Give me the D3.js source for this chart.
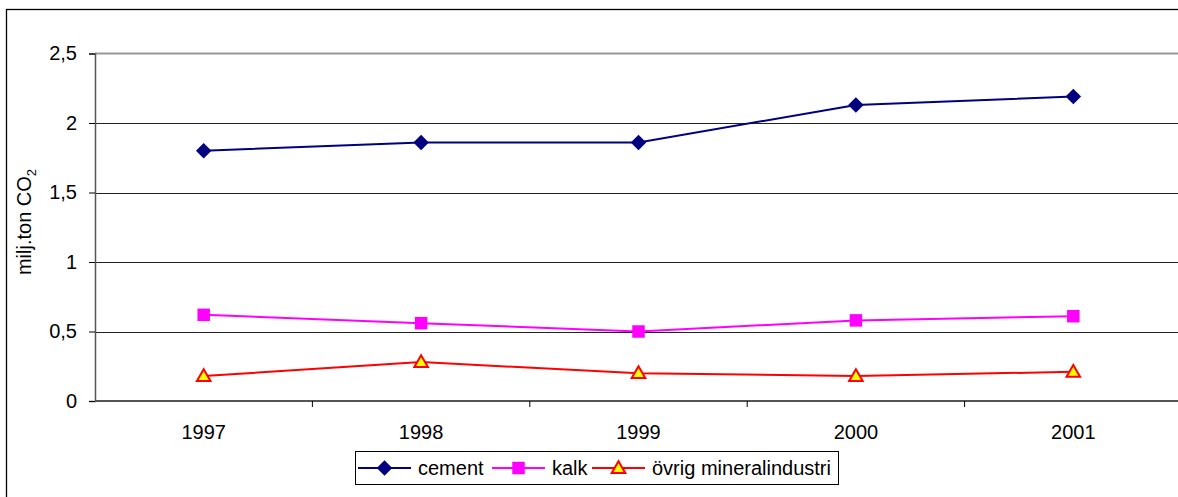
<!DOCTYPE html>
<html>
<head>
<meta charset="utf-8">
<script src="https://cdn.jsdelivr.net/npm/d3@7"></script>
<style>
  body { margin: 0; background: #fff; }
  svg { display: block; font-family: "Liberation Sans", Arial, sans-serif; }
</style>
</head>
<body>
<svg id="chart" width="1178" height="497"></svg>
<script>
// data
const years = ["1997", "1998", "1999", "2000", "2001"];
const cement = [1.80, 1.86, 1.86, 2.13, 2.19];
const kalk = [0.62, 0.56, 0.50, 0.58, 0.61];
const ovrig = [0.18, 0.28, 0.20, 0.18, 0.21];
const yTicks = [0, 0.5, 1, 1.5, 2, 2.5];

const svg = d3.select("#chart");

// outer chart border (right/bottom fall outside the picture)
svg.append("rect")
  .attr("x", 6.5).attr("y", 9.5)
  .attr("width", 1200).attr("height", 520)
  .attr("fill", "#fff").attr("stroke", "#000").attr("stroke-width", 1.3);

const plotLeft = 95, plotTop = 53.5, plotBottom = 401;
const xScale = d3.scaleBand().domain(years).range([plotLeft, plotLeft + 5 * 217.4]);
const yScale = d3.scaleLinear().domain([0, 2.5]).range([plotBottom, plotTop]);

// gridlines
svg.append("g")
  .selectAll("line")
  .data(yTicks.filter(d => d > 0 && d < 2.5))
  .enter()
  .append("line")
  .attr("x1", plotLeft).attr("x2", 1190)
  .attr("y1", d => Math.round(yScale(d)) + 0.5)
  .attr("y2", d => Math.round(yScale(d)) + 0.5)
  .attr("stroke", "#222").attr("stroke-width", 1);

// top of plot area
svg.append("line")
  .attr("x1", plotLeft).attr("x2", 1190)
  .attr("y1", yScale(2.5)).attr("y2", yScale(2.5))
  .attr("stroke", "#999").attr("stroke-width", 2);

// y axis
const yAxis = svg.append("g")
  .attr("transform", `translate(${plotLeft},0)`)
  .call(d3.axisLeft(yScale).tickValues(yTicks).tickSize(6).tickPadding(12)
    .tickFormat(d => String(d).replace(".", ",")));
yAxis.selectAll("path, line").attr("stroke", "#000");
yAxis.select(".domain").attr("stroke", "#555").attr("stroke-width", 1.5);
yAxis.selectAll("text").attr("font-size", 20).attr("fill", "#000")
  .attr("font-family", "Liberation Sans, Arial, sans-serif");

// x axis: ticks at band boundaries
const xAxis = svg.append("g").attr("transform", `translate(0,${plotBottom})`);
xAxis.append("line")
  .attr("x1", plotLeft).attr("x2", 1190)
  .attr("stroke", "#555").attr("stroke-width", 2);
xAxis.selectAll(".tk")
  .data(years.slice(1))
  .enter()
  .append("line")
  .attr("x1", d => xScale(d)).attr("x2", d => xScale(d))
  .attr("y1", 0).attr("y2", 6)
  .attr("stroke", "#000");
xAxis.selectAll(".lbl")
  .data(years)
  .enter()
  .append("text")
  .attr("x", d => xScale(d) + xScale.bandwidth() / 2)
  .attr("y", 38)
  .attr("text-anchor", "middle")
  .attr("font-size", 20)
  .text(d => d);

// y axis title
const title = svg.append("text")
  .attr("transform", "translate(31,222) rotate(-90)")
  .attr("text-anchor", "middle")
  .attr("font-size", 20);
title.append("tspan").text("milj.ton CO");
title.append("tspan").attr("font-size", 13).attr("dy", 5).text("2");

const cx = i => xScale(years[i]) + xScale.bandwidth() / 2;
const diamond = { draw(ctx, size) { const r = Math.sqrt(size) / 2 * Math.SQRT2; ctx.moveTo(0, -r); ctx.lineTo(r, 0); ctx.lineTo(0, r); ctx.lineTo(-r, 0); ctx.closePath(); } };
const series = [
  { name: "cement", values: cement, color: "#000080", symbol: diamond, size: 120, fill: "#000080", stroke: "none", dy: 0 },
  { name: "kalk", values: kalk, color: "#ff00ff", symbol: d3.symbolSquare, size: 156, fill: "#ff00ff", stroke: "none", dy: 0 },
  { name: "övrig mineralindustri", values: ovrig, color: "#ff0000", symbol: d3.symbolTriangle, size: 80, fill: "#ffff00", stroke: "#ff0000", dy: 1 }
];

const line = d3.line().x((d, i) => cx(i)).y(d => yScale(d));

series.forEach(s => {
  svg.append("path")
    .datum(s.values)
    .attr("d", line)
    .attr("fill", "none")
    .attr("stroke", s.color)
    .attr("stroke-width", 2);
  svg.selectAll(null)
    .data(s.values)
    .enter()
    .append("path")
    .attr("d", d3.symbol().type(s.symbol).size(s.size))
    .attr("transform", (d, i) => `translate(${cx(i)},${yScale(d) + s.dy})`)
    .attr("fill", s.fill)
    .attr("stroke", s.stroke)
    .attr("stroke-width", 2);
});

// legend
const legend = svg.append("g");
legend.append("rect")
  .attr("x", 355.5).attr("y", 451.5)
  .attr("width", 483).attr("height", 33)
  .attr("fill", "#fff").attr("stroke", "#000").attr("stroke-width", 1);
const legendX = [358, 492, 592];
series.forEach((s, i) => {
  const g = legend.append("g").attr("transform", `translate(${legendX[i]},468)`);
  g.append("line").attr("x1", 0).attr("x2", 53)
    .attr("stroke", s.color).attr("stroke-width", 2);
  g.append("path")
    .attr("d", d3.symbol().type(s.symbol).size(s.size))
    .attr("transform", `translate(26.5,${s.dy})`)
    .attr("fill", s.fill).attr("stroke", s.stroke).attr("stroke-width", 2);
  g.append("text")
    .attr("x", 60).attr("y", 7)
    .attr("font-size", 20)
    .text(s.name);
});
</script>
</body>
</html>
